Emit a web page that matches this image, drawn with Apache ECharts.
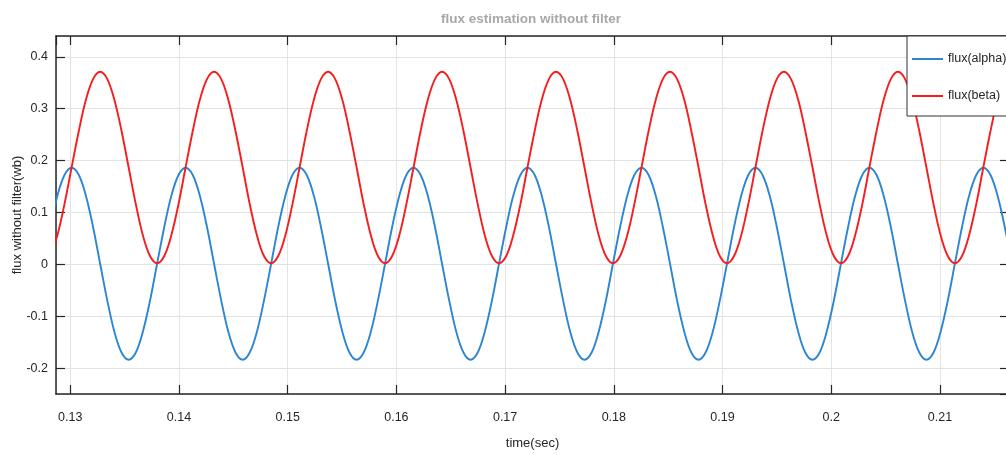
<!DOCTYPE html>
<html>
<head>
<meta charset="utf-8">
<title>flux estimation without filter</title>
<script src="https://cdn.jsdelivr.net/npm/echarts@6/dist/echarts.min.js"></script>
<style>
  html, body { margin: 0; padding: 0; background: #fff; }
  #chart { width: 1006px; height: 455px; }
</style>
</head>
<body>
<div id="chart"></div>
<script>
// sample times (sec), 16 readings per cycle
const timeSec = [
  0.12816, 0.12882, 0.12947,
  0.13013, 0.13079, 0.13144, 0.13210, 0.13275, 0.13341, 0.13406, 0.13472,
  0.13537, 0.13603, 0.13668, 0.13734, 0.13799, 0.13865, 0.13930, 0.13996,
  0.14061, 0.14127, 0.14192, 0.14258, 0.14323, 0.14389, 0.14454, 0.14520,
  0.14586, 0.14651, 0.14717, 0.14782, 0.14848, 0.14913, 0.14979, 0.15044,
  0.15110, 0.15175, 0.15241, 0.15306, 0.15372, 0.15437, 0.15503, 0.15568,
  0.15634, 0.15699, 0.15765, 0.15830, 0.15896, 0.15961, 0.16027, 0.16092,
  0.16158, 0.16223, 0.16289, 0.16355, 0.16420, 0.16486, 0.16551, 0.16617,
  0.16682, 0.16748, 0.16813, 0.16879, 0.16944, 0.17010, 0.17075, 0.17141,
  0.17206, 0.17272, 0.17337, 0.17403, 0.17468, 0.17534, 0.17599, 0.17665,
  0.17730, 0.17796, 0.17861, 0.17927, 0.17992, 0.18058, 0.18124, 0.18189,
  0.18255, 0.18320, 0.18386, 0.18451, 0.18517, 0.18582, 0.18648, 0.18713,
  0.18779, 0.18844, 0.18910, 0.18975, 0.19041, 0.19106, 0.19172, 0.19237,
  0.19303, 0.19368, 0.19434, 0.19499, 0.19565, 0.19630, 0.19696, 0.19761,
  0.19827, 0.19893, 0.19958, 0.20024, 0.20089, 0.20155, 0.20220, 0.20286,
  0.20351, 0.20417, 0.20482, 0.20548, 0.20613, 0.20679, 0.20744, 0.20810,
  0.20875, 0.20941, 0.21006, 0.21072, 0.21137, 0.21203, 0.21268, 0.21334,
  0.21399, 0.21465, 0.21530, 0.21596, 0.21662
];

// flux(alpha) in wb
const fluxAlpha = [
  0.072, 0.132, 0.172,
  0.186, 0.172, 0.132, 0.072, 0.001, -0.070, -0.130, -0.170,
  -0.184, -0.170, -0.130, -0.070, 0.001, 0.072, 0.132, 0.172,
  0.186, 0.172, 0.132, 0.072, 0.001, -0.070, -0.130, -0.170,
  -0.184, -0.170, -0.130, -0.070, 0.001, 0.072, 0.132, 0.172,
  0.186, 0.172, 0.132, 0.072, 0.001, -0.070, -0.130, -0.170,
  -0.184, -0.170, -0.130, -0.070, 0.001, 0.072, 0.132, 0.172,
  0.186, 0.172, 0.132, 0.072, 0.001, -0.070, -0.130, -0.170,
  -0.184, -0.170, -0.130, -0.070, 0.001, 0.072, 0.132, 0.172,
  0.186, 0.172, 0.132, 0.072, 0.001, -0.070, -0.130, -0.170,
  -0.184, -0.170, -0.130, -0.070, 0.001, 0.072, 0.132, 0.172,
  0.186, 0.172, 0.132, 0.072, 0.001, -0.070, -0.130, -0.170,
  -0.184, -0.170, -0.130, -0.070, 0.001, 0.072, 0.132, 0.172,
  0.186, 0.172, 0.132, 0.072, 0.001, -0.070, -0.130, -0.170,
  -0.184, -0.170, -0.130, -0.070, 0.001, 0.072, 0.132, 0.172,
  0.186, 0.172, 0.132, 0.072, 0.001, -0.070, -0.130, -0.170,
  -0.184, -0.170, -0.130, -0.070, 0.001, 0.072, 0.132, 0.172,
  0.186, 0.172, 0.132, 0.072, 0.001
];

// flux(beta) in wb
const fluxBeta = [
  0.016, 0.056, 0.116,
  0.187, 0.257, 0.317, 0.357, 0.371, 0.357, 0.317, 0.257,
  0.187, 0.116, 0.056, 0.016, 0.002, 0.016, 0.056, 0.116,
  0.187, 0.257, 0.317, 0.357, 0.371, 0.357, 0.317, 0.257,
  0.187, 0.116, 0.056, 0.016, 0.002, 0.016, 0.056, 0.116,
  0.187, 0.257, 0.317, 0.357, 0.371, 0.357, 0.317, 0.257,
  0.187, 0.116, 0.056, 0.016, 0.002, 0.016, 0.056, 0.116,
  0.187, 0.257, 0.317, 0.357, 0.371, 0.357, 0.317, 0.257,
  0.187, 0.116, 0.056, 0.016, 0.002, 0.016, 0.056, 0.116,
  0.187, 0.257, 0.317, 0.357, 0.371, 0.357, 0.317, 0.257,
  0.187, 0.116, 0.056, 0.016, 0.002, 0.016, 0.056, 0.116,
  0.187, 0.257, 0.317, 0.357, 0.371, 0.357, 0.317, 0.257,
  0.187, 0.116, 0.056, 0.016, 0.002, 0.016, 0.056, 0.116,
  0.187, 0.257, 0.317, 0.357, 0.371, 0.357, 0.317, 0.257,
  0.187, 0.116, 0.056, 0.016, 0.002, 0.016, 0.056, 0.116,
  0.187, 0.257, 0.317, 0.357, 0.371, 0.357, 0.317, 0.257,
  0.187, 0.116, 0.056, 0.016, 0.002, 0.016, 0.056, 0.116,
  0.187, 0.257, 0.317, 0.357, 0.371
];

const xRange = [0.12869, 0.21635];
const yRange = [-0.25, 0.44];

const FONT = '"Liberation Sans", Arial, Helvetica, sans-serif';
const AXIS_COLOR = '#262626';
const GRID_COLOR = '#e3e3e3';

const chart = echarts.init(document.getElementById('chart'));

const pairs = (ys) => timeSec.map((t, i) => [t, ys[i]]);

// MATLAB-like box axes: ticks inside, mirrored on top/right
const boxAxis = (extra) => Object.assign({
  type: 'value',
  axisLine: { show: true, onZero: false, lineStyle: { color: AXIS_COLOR, width: 1.5 } },
  axisTick: { show: true, inside: true, length: 9, lineStyle: { color: AXIS_COLOR, width: 1.2 } },
  splitLine: { show: false },
  axisLabel: { show: false }
}, extra);

const option = {
  animation: false,
  backgroundColor: '#ffffff',
  title: {
    text: 'flux estimation without filter',
    left: 441,
    top: 12,
    padding: 0,
    textStyle: { color: '#a8a8a8', fontSize: 13.5, fontWeight: 'bold', fontFamily: FONT }
  },
  legend: {
    orient: 'vertical',
    left: 907,
    top: 36,
    padding: [16, 40, 13, 5],
    itemGap: 23,
    itemWidth: 31,
    itemHeight: 2,
    icon: 'rect',
    backgroundColor: '#ffffff',
    borderColor: '#303030',
    borderWidth: 1,
    borderRadius: 0,
    textStyle: { color: AXIS_COLOR, fontSize: 12.5, fontFamily: FONT, lineHeight: 14 },
    data: ['flux(alpha)', 'flux(beta)']
  },
  grid: {
    left: 56, right: -3, top: 36, bottom: 61,
    containLabel: false,
    outerBoundsMode: 'none'
  },
  xAxis: [
    boxAxis({
      position: 'bottom',
      min: xRange[0],
      max: xRange[1],
      splitNumber: 9,
      name: 'time(sec)',
      nameLocation: 'middle',
      nameGap: 43,
      nameMoveOverlap: false,
      nameTextStyle: { color: AXIS_COLOR, fontSize: 13, fontFamily: FONT },
      axisLabel: {
        show: true, margin: 17, color: AXIS_COLOR, fontSize: 12.5, fontFamily: FONT,
        showMinLabel: false, showMaxLabel: false
      },
      splitLine: { show: true, lineStyle: { color: GRID_COLOR, width: 1 } }
    }),
    boxAxis({ position: 'top', min: xRange[0], max: xRange[1], splitNumber: 9 })
  ],
  yAxis: [
    boxAxis({
      position: 'left',
      min: yRange[0],
      max: yRange[1],
      splitNumber: 7,
      name: 'flux without filter(wb)',
      nameLocation: 'middle',
      nameGap: 32,
      nameMoveOverlap: false,
      nameTextStyle: { color: AXIS_COLOR, fontSize: 13, fontFamily: FONT },
      axisLabel: {
        show: true, margin: 8, color: AXIS_COLOR, fontSize: 12.5, fontFamily: FONT,
        showMinLabel: false, showMaxLabel: false
      },
      splitLine: { show: true, lineStyle: { color: GRID_COLOR, width: 1 } }
    }),
    boxAxis({ position: 'right', min: yRange[0], max: yRange[1], splitNumber: 7 })
  ],
  series: [
    {
      name: 'flux(alpha)',
      type: 'line',
      data: pairs(fluxAlpha),
      smooth: 0.35,
      symbol: 'none',
      clip: true,
      itemStyle: { color: '#2c86d2' },
      lineStyle: { color: '#2c86d2', width: 1.9 }
    },
    {
      name: 'flux(beta)',
      type: 'line',
      data: pairs(fluxBeta),
      smooth: 0.35,
      symbol: 'none',
      clip: true,
      itemStyle: { color: '#f51d1d' },
      lineStyle: { color: '#f51d1d', width: 1.9 }
    }
  ]
};

chart.setOption(option);
</script>
</body>
</html>
